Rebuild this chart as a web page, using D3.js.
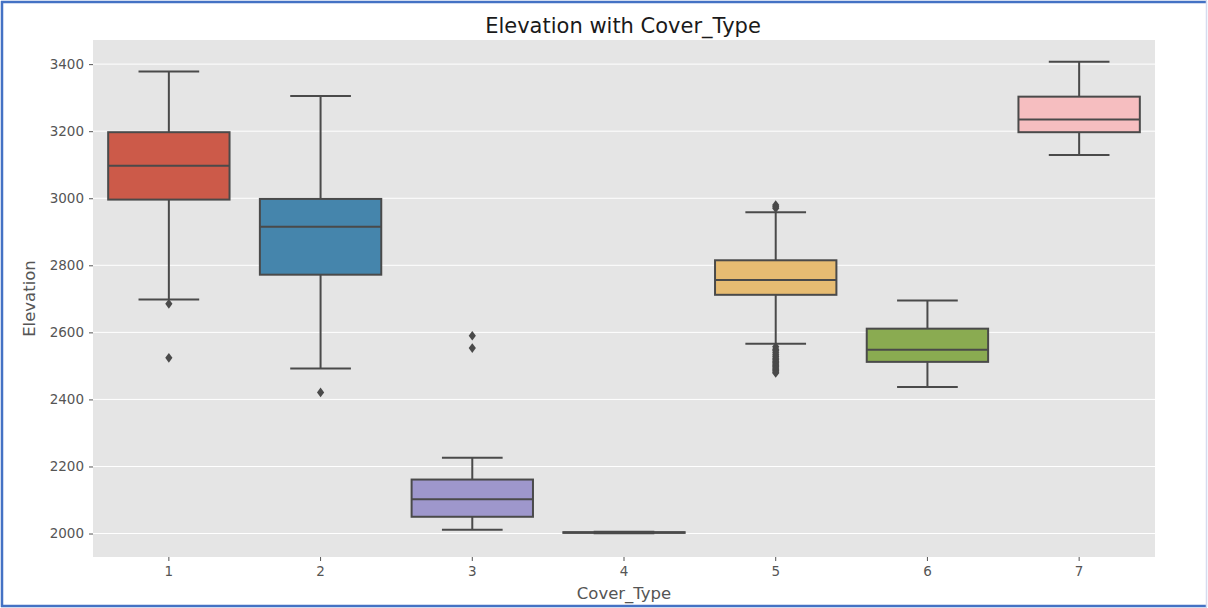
<!DOCTYPE html>
<html><head><meta charset="utf-8">
<script src="https://cdn.jsdelivr.net/npm/d3@7"></script>
<style>body{margin:0;background:#fff;}svg{display:block;font-family:"DejaVu Sans",sans-serif;}</style>
</head><body>
<svg id="c" width="1208" height="608"></svg>
<script>
const categories = ["1","2","3","4","5","6","7"];
const whiskerLow  = [2698, 2492, 2011, 2001, 2566, 2437, 3129];
const q1          = [2996, 2772, 2050, 2002, 2712, 2512, 3197];
const median      = [3097, 2915, 2102, 2003, 2756, 2548, 3235];
const q3          = [3197, 2998, 2161, 2004, 2815, 2611, 3303];
const whiskerHigh = [3378, 3305, 2226, 2005, 2958, 2695, 3407];
const outliers = [
  [2685, 2524],
  [2421],
  [2590, 2553],
  [],
  [2980, 2975, 2970, 2557, 2550, 2545, 2539, 2533, 2528, 2523, 2518, 2514, 2510, 2506, 2502, 2498, 2494, 2490, 2486, 2482, 2479],
  [],
  []
];
const colors = ["#cc5a49","#4585ac","#9e97cc","#777777","#e7bc72","#8aab51","#f6bec0"];
const yTicks = [2000,2200,2400,2600,2800,3000,3200,3400];

const svg = d3.select("#c");
const L = 93, R = 1155, T = 40, B = 557;
const x = d3.scaleBand().domain(categories).range([L, R]).padding(0);
const y = d3.scaleLinear().domain([1930, 3472]).range([B, T]);
const lineC = "#4a4a4a";

// frame
svg.append("line").attr("x1",2).attr("y1",1).attr("x2",2).attr("y2",607).attr("stroke","#4472c4").attr("stroke-width",2.5);
svg.append("line").attr("x1",1).attr("y1",2).attr("x2",1207).attr("y2",2).attr("stroke","#4472c4").attr("stroke-width",2.5);
svg.append("line").attr("x1",1).attr("y1",606).attr("x2",1207).attr("y2",606).attr("stroke","#4472c4").attr("stroke-width",2.5);
svg.append("line").attr("x1",1206.5).attr("y1",1).attr("x2",1206.5).attr("y2",607).attr("stroke","#d6dcef").attr("stroke-width",1.5);

svg.append("rect").attr("x",L).attr("y",T).attr("width",R-L).attr("height",B-T).attr("fill","#e5e5e5");

// grid
svg.append("g").selectAll("line").data(yTicks).join("line")
  .attr("x1",L).attr("x2",R).attr("y1",d=>y(d)).attr("y2",d=>y(d))
  .attr("stroke","#ffffff").attr("stroke-width",1);

// axes
const yAxis = svg.append("g").attr("transform",`translate(${L},0)`)
  .call(d3.axisLeft(y).tickValues(yTicks).tickSize(4).tickPadding(5).tickFormat(d3.format("d")));
const xAxis = svg.append("g").attr("transform",`translate(0,${B})`)
  .call(d3.axisBottom(x).tickSize(4).tickPadding(5));
[yAxis,xAxis].forEach(a=>{
  a.select(".domain").remove();
  a.selectAll(".tick line").attr("stroke","#555");
  a.selectAll(".tick text").attr("fill","#555").attr("font-size","13.5px").attr("font-family","DejaVu Sans");
});

// boxes
const bw = x.bandwidth()*0.8;
const g = svg.append("g");
categories.forEach((c,i)=>{
  const cx = x(c) + x.bandwidth()/2;
  const gi = g.append("g");
  gi.append("line").attr("x1",cx).attr("x2",cx).attr("y1",y(q3[i])).attr("y2",y(whiskerHigh[i])).attr("stroke",lineC).attr("stroke-width",2);
  gi.append("line").attr("x1",cx).attr("x2",cx).attr("y1",y(q1[i])).attr("y2",y(whiskerLow[i])).attr("stroke",lineC).attr("stroke-width",2);
  gi.append("line").attr("x1",cx-bw/4).attr("x2",cx+bw/4).attr("y1",y(whiskerHigh[i])).attr("y2",y(whiskerHigh[i])).attr("stroke",lineC).attr("stroke-width",2);
  gi.append("line").attr("x1",cx-bw/4).attr("x2",cx+bw/4).attr("y1",y(whiskerLow[i])).attr("y2",y(whiskerLow[i])).attr("stroke",lineC).attr("stroke-width",2);
  gi.append("rect").attr("x",cx-bw/2).attr("width",bw).attr("y",y(q3[i])).attr("height",y(q1[i])-y(q3[i]))
    .attr("fill",colors[i]).attr("stroke",lineC).attr("stroke-width",2);
  gi.append("line").attr("x1",cx-bw/2).attr("x2",cx+bw/2).attr("y1",y(median[i])).attr("y2",y(median[i])).attr("stroke",lineC).attr("stroke-width",2);
  gi.selectAll("path").data(outliers[i]).join("path")
    .attr("d","M0,-4.8L3.6,0L0,4.8L-3.6,0Z")
    .attr("transform",d=>`translate(${cx},${y(d)})`)
    .attr("fill",lineC);
});

// labels
svg.append("text").attr("x",(L+R)/2 - 1).attr("y",33).attr("text-anchor","middle").attr("font-size","21px").attr("fill","#1a1a1a").text("Elevation with Cover_Type");
svg.append("text").attr("x",(L+R)/2).attr("y",599).attr("text-anchor","middle").attr("font-size","16.5px").attr("fill","#555").text("Cover_Type");
svg.append("text").attr("transform",`translate(35,${(T+B)/2}) rotate(-90)`).attr("text-anchor","middle").attr("font-size","16.5px").attr("fill","#555").text("Elevation");
</script>
</body></html>
